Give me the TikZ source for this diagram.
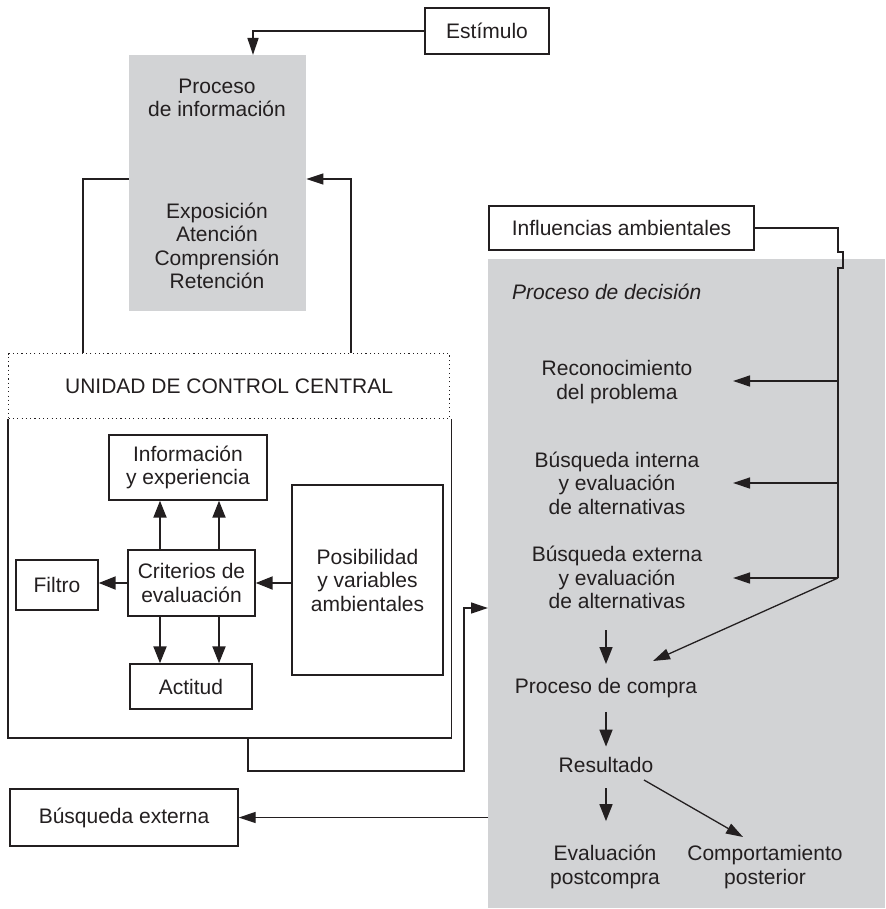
\documentclass[tikz,border=0pt]{standalone}
\usepackage{fontspec}
\setmainfont{Liberation Sans}
\usetikzlibrary{arrows.meta,calc}
\definecolor{ink}{RGB}{35,31,32}
\definecolor{panel}{RGB}{210,211,213}

\begin{document}
\begin{tikzpicture}[x=1pt,y=-1pt,
  every node/.style={font=\fontsize{21}{23.5}\selectfont, text=ink},
  box/.style={draw=ink, line width=1.4pt, fill=white, inner sep=0pt},
  conn/.style={draw=ink, line width=1.3pt},
  arr/.style={conn, -{Triangle[length=17pt,width=11pt]}},
  heavyarr/.style={draw=ink, line width=2pt, -{Triangle[length=17pt,width=13pt]}},
  lbl/.style={align=center, inner sep=0pt},
  shade/.style={fill=panel, draw=none, inner sep=0pt, anchor=north west},
]
\useasboundingbox (0,0) rectangle (885,909);

% grey panels
\node[shade, minimum width=177pt, minimum height=256pt] (infopanel) at (129,55) {};
\node[shade, minimum width=397pt, minimum height=649pt] (decision) at (488,259) {};

% information processing
\node[box, minimum width=124pt, minimum height=46pt] (estimulo) at (487,31) {Estímulo};
\node[lbl] (procinfo) at (217,98) {Proceso\\de información};
\node[lbl] (etapas) at (217,246) {Exposición\\Atención\\Comprensión\\Retención};

% central control unit
\node[draw=ink, line width=1.2pt, dash pattern=on 1.1pt off 3.2pt, minimum width=441pt, minimum height=65pt,
      inner sep=0pt, anchor=north west] (ucc) at (8,353) {UNIDAD DE CONTROL CENTRAL};
\coordinate (frameB) at (0,738);
\draw[draw=ink, line width=1.4pt] (ucc.south west) -- (ucc.south west |- frameB)
  -- ([xshift=1pt]ucc.south east |- frameB) -- ([xshift=1pt]ucc.south east);

\node[box, minimum width=158pt, minimum height=65pt, align=center] (info) at (188,467.5) {Información\\y experiencia};
\node[box, minimum width=127pt, minimum height=66pt, align=center] (crit) at (191.5,583) {Criterios de\\evaluación};
\node[box, minimum width=122pt, minimum height=45pt] (actitud) at (191,686.5) {Actitud};
\node[box, minimum width=82pt, minimum height=50pt] (filtro) at (57,585) {Filtro};
\node[box, minimum width=151pt, minimum height=190pt, align=center] (posib) at (367.5,580) {Posibilidad\\y variables\\ambientales};

% decision process
\node[box, minimum width=265pt, minimum height=44pt] (influ) at (621.5,228) {Influencias ambientales};
\node[inner sep=0pt, anchor=west, font=\fontsize{21}{23.5}\selectfont\itshape] (dectitle) at (512,292) {Proceso de decisión};
\node[lbl] (recon) at (617,382) {Reconocimiento\\del problema};
\node[lbl] (busint) at (617,483) {Búsqueda interna\\y evaluación\\de alternativas};
\node[lbl] (busext) at (617,577.5) {Búsqueda externa\\y evaluación\\de alternativas};
\node[lbl] (compra) at (606,688) {Proceso de compra};
\node[lbl] (resultado) at (606,764.5) {Resultado};
\node[lbl] (evalpost) at (605,867) {Evaluación\\postcompra};
\node[lbl] (comport) at (765,867) {Comportamiento\\posterior};
\node[box, minimum width=228pt, minimum height=57pt] (busq) at (124,817.5) {Búsqueda externa};

% stimulus input
\coordinate (stimIn) at (253,55);
\draw[arr] (estimulo.west) -| (stimIn);

% feedback loop between the control unit and information processing
\coordinate (loopL) at (83,179);
\coordinate (loopR) at (351,179);
\draw[conn] (loopL |- ucc.north) -- (loopL) -- (loopL -| infopanel.west);
\draw[arr] (loopR |- ucc.north) -- (loopR) -- (loopR -| infopanel.east);

% arrows inside the control unit
\draw[heavyarr] ([xshift=-31.5pt]crit.north) -- ([xshift=-28pt]info.south);
\draw[heavyarr] ([xshift=27.5pt]crit.north) -- ([xshift=31pt]info.south);
\draw[heavyarr] ([xshift=-31.5pt]crit.south) -- ([xshift=-31pt]actitud.north);
\draw[heavyarr] ([xshift=27.5pt]crit.south) -- ([xshift=28pt]actitud.north);
\draw[heavyarr] (crit.west) -- (crit.west -| filtro.east);
\draw[heavyarr] (crit.east -| posib.west) -- (crit.east);

% control unit output to the decision process
\coordinate (c1) at (248,771);
\coordinate (c2) at (464,608);
\draw[arr] (c1 |- frameB) -- (c1) -| (c2) -- (c2 -| decision.west);

% environmental influences
\coordinate (busX) at (838,228);
\coordinate (hopA) at (838,252);
\coordinate (hopB) at (843,252);
\coordinate (hopC) at (843,268);
\coordinate (hopD) at (838,268);
\coordinate (t1) at (733,381);
\coordinate (t2) at (733,483);
\coordinate (t3) at (733,578);
\coordinate (compraTip) at (653,661);
\draw[conn] (influ.east) -- (busX) -- (hopA) -- (hopB) -- (hopC) -- (hopD) -- (busX |- t3);
\draw[arr] (busX |- t1) -- (t1);
\draw[arr] (busX |- t2) -- (t2);
\draw[arr] (busX |- t3) -- (t3);
\draw[arr] (busX |- t3) -- (compraTip);

% decision sequence
\draw[heavyarr, line width=1.6pt, shorten <=21pt, shorten >=14pt] (compra.north |- busext.south) -- (compra.north);
\draw[heavyarr, line width=1.6pt, shorten <=14pt, shorten >=10pt] (compra.south) -- (compra.south |- resultado.north);
\draw[heavyarr, line width=1.6pt, shorten <=16pt, shorten >=24pt] (resultado.south) -- (resultado.south |- evalpost.north);
\coordinate (resA) at (644,780);
\coordinate (compTip) at (743,837);
\draw[arr] (resA) -- (compTip);

% feedback to external search
\draw[arr] (busq.east -| decision.west) -- (busq.east);
\end{tikzpicture}
\end{document}
